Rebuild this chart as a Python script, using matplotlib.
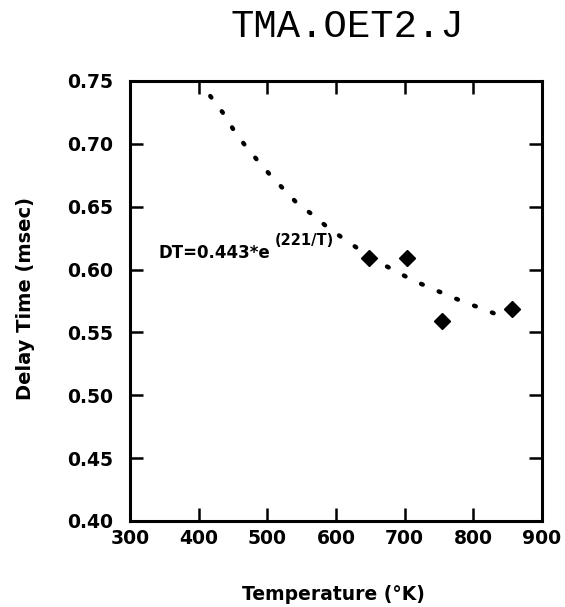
import matplotlib
matplotlib.use('Agg')
import matplotlib.pyplot as plt

# measured delay times
temps = [648, 704, 755, 856]
delays = [0.609, 0.609, 0.559, 0.569]

# fitted curve
fit_t = [417, 435, 450, 466, 484, 503, 522, 543, 565, 587,
         610, 634, 658, 683, 710, 735, 761, 787, 813, 840]
fit_dt = [0.738, 0.725, 0.712, 0.700, 0.688, 0.676, 0.665, 0.653, 0.644, 0.634,
          0.625, 0.616, 0.607, 0.600, 0.592, 0.586, 0.580, 0.574, 0.569, 0.563]

xticks = [300, 400, 500, 600, 700, 800, 900]
yticks = [0.40, 0.45, 0.50, 0.55, 0.60, 0.65, 0.70, 0.75]

fig = plt.figure(figsize=(5.65, 6.07), dpi=100)
ax = fig.add_axes([0.230, 0.1417, 0.729, 0.7249])

ax.plot(fit_t, fit_dt, color='black', lw=3.2, linestyle=(0, (0.4, 3.9)),
        dash_capstyle='round')
ax.plot(temps, delays, 'D', color='black', markersize=8.5)

ax.set_xlim(300, 900)
ax.set_ylim(0.40, 0.75)
ax.set_xticks(xticks)
ax.set_yticks(yticks)
ax.set_xticklabels([str(t) for t in xticks])
ax.set_yticklabels(['%.2f' % v for v in yticks])

for s in ax.spines.values():
    s.set_linewidth(2.2)
ax.tick_params(direction='in', length=9.5, width=1.8, top=True, right=True,
               labelsize=13.5)
ax.tick_params(axis='x', pad=6)
ax.tick_params(axis='y', pad=12)
for lbl in ax.get_xticklabels() + ax.get_yticklabels():
    lbl.set_fontweight('bold')

ax.text(341, 0.613, 'DT=0.443*e', fontsize=12, fontweight='bold',
        va='center', ha='left')
ax.text(511, 0.623, '(221/T)', fontsize=10.5, fontweight='bold',
        va='center', ha='left')

fig.text(0.614, 0.955, 'TMA.OET2.J', family='Liberation Mono', fontsize=28,
         ha='center', va='center')
fig.text(0.59, 0.020, 'Temperature (°K)', fontsize=13.5, fontweight='bold',
         ha='center', va='center')
fig.text(0.045, 0.509, 'Delay Time (msec)', fontsize=14, fontweight='bold',
         ha='center', va='center', rotation=90)

fig.savefig('out.png', dpi=100)
